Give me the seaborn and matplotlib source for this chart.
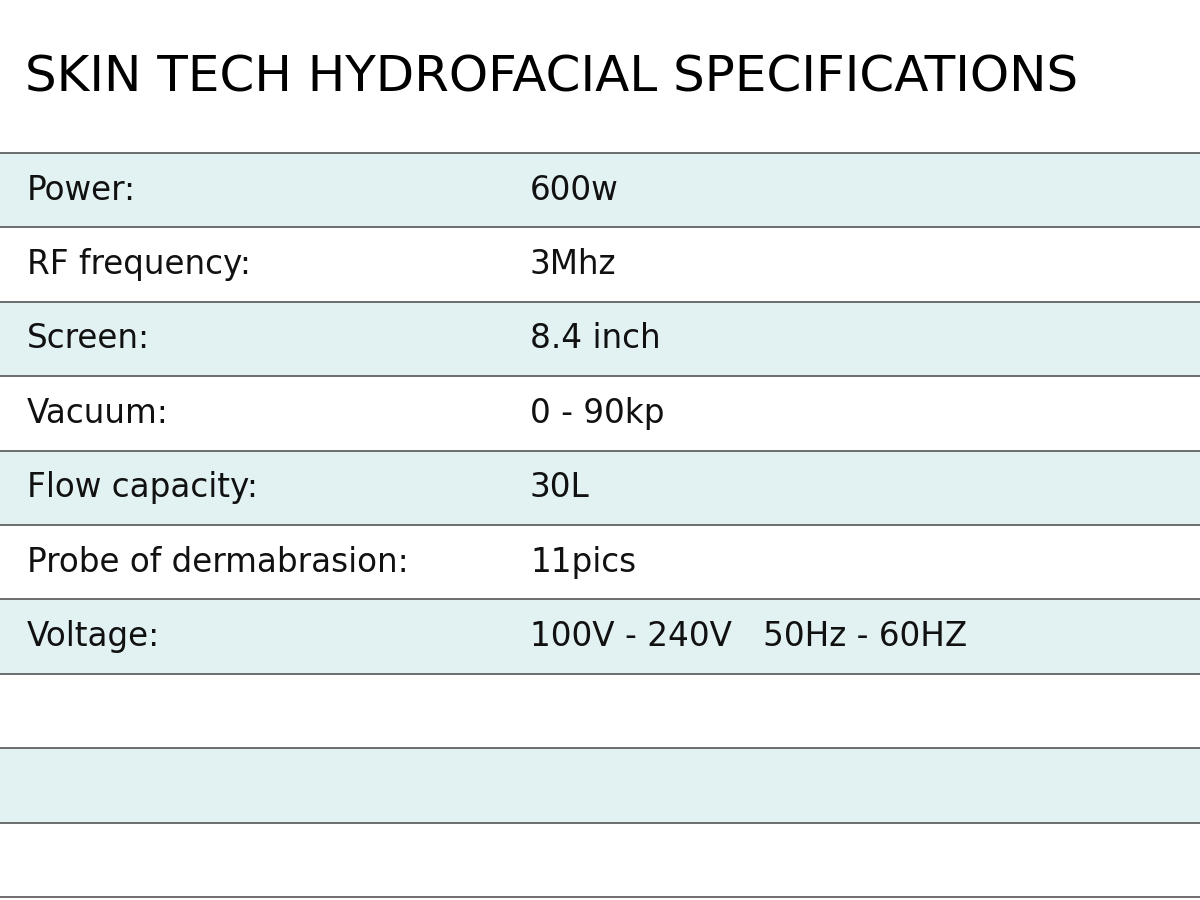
import matplotlib
matplotlib.use("Agg")
import matplotlib.pyplot as plt
import seaborn as sns
import pandas as pd

title = "SKIN TECH HYDROFACIAL SPECIFICATIONS"
labels = ["Power:", "RF frequency:", "Screen:", "Vacuum:", "Flow capacity:",
          "Probe of dermabrasion:", "Voltage:", "", "", ""]
values = ["600w", "3Mhz", "8.4 inch", "0 - 90kp", "30L", "11pics",
          "100V - 240V   50Hz - 60HZ", "", "", ""]

sns.set_theme(style="white")
plt.rcParams['font.family'] = ['DejaVu Sans']

n = len(labels)
df = pd.DataFrame({"row": [str(i) for i in range(n)], "w": [1200] * n,
                   "shade": ["a" if i % 2 == 0 else "b" for i in range(n)]})

fig = plt.figure(figsize=(12, 9), dpi=100)
ax = fig.add_axes([0, 0, 1, 1])
sns.barplot(data=df, y="row", x="w", hue="shade", orient="h", width=1.0,
            palette={"a": "#e0f3f3", "b": "#ffffff"}, legend=False, ax=ax,
            linewidth=0)
rh = 74.4
ax.set_xlim(0, 1200)
ax.set_ylim(n - 0.5 + 3 / rh, -0.5 - 153 / rh)
for i in range(n + 1):
    ax.axhline(i - 0.5, color="#555555", lw=1.2)
for i in range(n):
    ax.text(27, i, labels[i], fontsize=23.5, va="center", ha="left", color="#111111")
    ax.text(530, i, values[i], fontsize=23.5, va="center", ha="left", color="#111111")
ax.text(25, -0.5 - 75 / rh, title, fontsize=36, fontweight="medium",
        va="center", ha="left", color="#000000")
ax.set_axis_off()
fig.savefig("out.png", dpi=100)
